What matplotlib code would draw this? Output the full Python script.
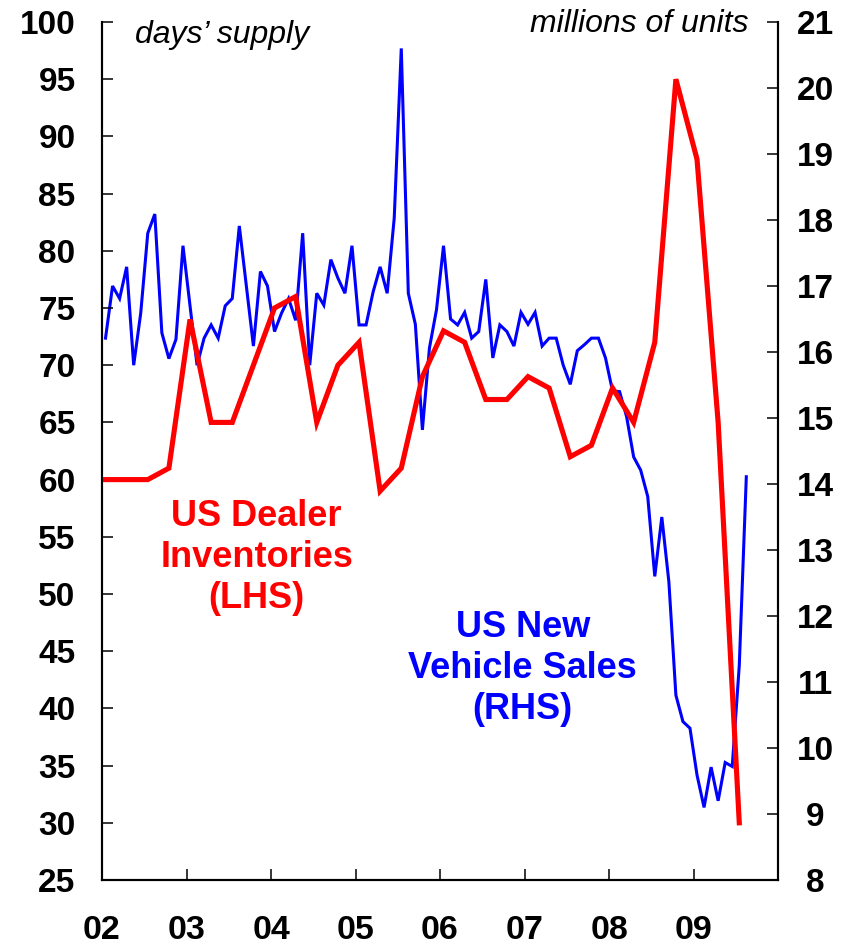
import numpy as np
import matplotlib
matplotlib.use("Agg")
from matplotlib import pyplot as plt

# US dealer inventories, days' supply, quarterly from 2002 Q1 (LHS)
inventories = [60, 60, 60, 61, 74, 65, 65, 70, 75, 76, 65, 70, 72, 59, 61, 69,
               73, 72, 67, 67, 69, 68, 62, 63, 68, 65, 72, 95, 88, 65, 30]

# US new vehicle sales, millions of units (saar), monthly from Jan 2002 (RHS)
sales = [16.21, 17.0, 16.81, 17.29, 15.80, 16.59, 17.80, 18.09, 16.29, 15.90, 16.19, 17.61,
         16.7, 15.80, 16.21, 16.41, 16.21, 16.70, 16.81, 17.91, 17.0, 16.09, 17.22, 17.0,
         16.31, 16.59, 16.81, 16.48, 17.80, 15.80, 16.89, 16.71, 17.40, 17.12, 16.89, 17.61,
         16.41, 16.41, 16.91, 17.29, 16.89, 18.03, 20.60, 16.89, 16.42, 14.82, 16.06, 16.64,
         17.61, 16.50, 16.41, 16.60, 16.21, 16.31, 17.10, 15.91, 16.41, 16.31, 16.09, 16.60,
         16.42, 16.60, 16.09, 16.21, 16.21, 15.80, 15.51, 16.02, 16.11, 16.21, 16.21, 15.91,
         15.41, 15.40, 15.02, 14.41, 14.21, 13.81, 12.60, 13.50, 12.52, 10.80, 10.40, 10.30,
         9.59, 9.10, 9.71, 9.20, 9.78, 9.72, 11.25, 14.11]

years = [2002, 2003, 2004, 2005, 2006, 2007, 2008, 2009]
year_labels = ['02', '03', '04', '05', '06', '07', '08', '09']
lhs_ticks = list(range(25, 101, 5))
rhs_ticks = list(range(8, 22))

red = '#ff0000'
blue = '#0000ff'
font = 'Liberation Sans'

# x positions in fractional years (middle of each month)
x_sales = 2002 + (np.arange(len(sales)) + 0.5) / 12
x_inv = 2002 + (np.arange(len(inventories)) * 3 + 0.5) / 12

fig = plt.figure(figsize=(8.56, 9.47), dpi=100)
ax = fig.add_axes([102/856, 1 - 880/947, (778-102)/856, (880-22)/947])
ax2 = ax.twinx()

ax2.plot(x_sales, sales, color=blue, lw=2.2, solid_joinstyle='miter', zorder=2)
ax.plot(x_inv, inventories, color=red, lw=3.7, solid_joinstyle='miter', zorder=3)
ax.set_zorder(ax2.get_zorder() + 1)
ax.patch.set_visible(False)

ax.set_xlim(2002, 2010)
ax.set_ylim(25, 100)
ax2.set_ylim(8, 21)

ax.set_xticks(years)
ax.set_xticklabels(year_labels)
ax.set_yticks(lhs_ticks)
ax2.set_yticks(rhs_ticks)

for a in (ax, ax2):
    a.spines['top'].set_visible(False)
    for s in a.spines.values():
        s.set_linewidth(1.5)

ax.tick_params(axis='x', direction='in', length=8, width=1.1, pad=25)
ax.tick_params(axis='y', direction='in', length=8, width=1.1, pad=19)
ax2.tick_params(axis='y', direction='in', length=8, width=1.1, pad=27)

for lab in ax.get_xticklabels():
    lab.set_fontfamily(font)
    lab.set_fontweight('bold')
    lab.set_fontsize(24.5)
for lab in ax.get_yticklabels():
    lab.set_fontfamily(font)
    lab.set_fontweight('bold')
    lab.set_fontsize(24)
for lab in ax2.get_yticklabels():
    lab.set_fontfamily(font)
    lab.set_fontweight('bold')
    lab.set_fontsize(24)
    lab.set_horizontalalignment('center')

fig.text(135/856, 1 - 35/947, 'days\u2019 supply', fontsize=23, style='italic',
         family=font, ha='left', va='center')
fig.text(748/856, 1 - 24/947, 'millions of units', fontsize=23, style='italic',
         family=font, ha='right', va='center')

ax.text(2003.83, 53.2, 'US Dealer\nInventories\n(LHS)', color=red, fontsize=26,
        fontweight='bold', family=font, ha='center', va='center', linespacing=1.22)
ax.text(2006.98, 43.5, 'US New\nVehicle Sales\n(RHS)', color=blue, fontsize=26,
        fontweight='bold', family=font, ha='center', va='center', linespacing=1.22)

fig.savefig('out.png', dpi=100)
